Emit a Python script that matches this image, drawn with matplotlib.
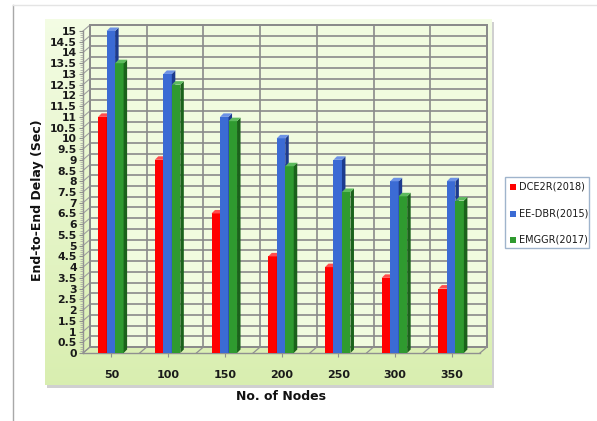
import matplotlib
matplotlib.use("Agg")
import matplotlib.pyplot as plt
import numpy as np
from matplotlib.patches import Rectangle, Polygon

# ── Data ──
nodes = ["50", "100", "150", "200", "250", "300", "350"]
dce2r = [11, 9, 6.5, 4.5, 4, 3.5, 3]
ee_dbr = [15, 13, 11, 10, 9, 8, 8]
emggr = [13.5, 12.5, 10.8, 8.7, 7.5, 7.3, 7.1]
series_names = ["DCE2R(2018)", "EE-DBR(2015)", "EMGGR(2017)"]

W, H = 597, 421
fig = plt.figure(figsize=(W / 100, H / 100), dpi=100)
fig.patch.set_facecolor("white")

def fx(x):
    return x / W

def fy(y):
    return 1 - y / H

# page frame lines
fig.add_artist(plt.Line2D([fx(13), fx(13)], [fy(5), fy(421)], color="#a8a8a8", lw=1))
fig.add_artist(plt.Line2D([fx(13), fx(597)], [fy(5), fy(5)], color="#e4e4e4", lw=1))

# chart area: soft shadow + green gradient
fig.add_artist(Rectangle((fx(47), fy(388)), fx(447), 366 / H,
                         facecolor="#d0d0d0", edgecolor="none", zorder=0))
bg = fig.add_axes([fx(45), fy(385), fx(447), 366 / H], zorder=0)
top = np.array([0.955, 0.99, 0.895])
bot = np.array([0.85, 0.935, 0.69])
t = np.linspace(0, 1, 256)[:, None]
grad = top[None, :] * (1 - t) + bot[None, :] * t
bg.imshow(grad[:, None, :], aspect="auto", extent=(0, 1, 0, 1))
bg.set_axis_off()

# main axes: front edge of the floor and the y axis
ax = fig.add_axes([fx(83), fy(353), 397 / W, 322 / H], zorder=1)
ax.set_facecolor("none")
ax.set_xlim(0, 7)
ax.set_ylim(0, 15)
for s in ax.spines.values():
    s.set_visible(False)

px_x = 7 / 397
px_y = 15 / 322
dxw, dyw = 7 * px_x, 6 * px_y          # wall depth offset
grid_c = "#8a8a8a"

# back wall
ax.add_patch(Rectangle((dxw, dyw), 7, 15, facecolor="#f1fbdf", edgecolor=grid_c,
                       lw=1.3, zorder=0.5, clip_on=False))
for y in np.arange(0, 15.01, 0.5):
    ax.plot([dxw, 7 + dxw], [y + dyw] * 2, color=grid_c, lw=1.2, zorder=0.6, clip_on=False)
    ax.plot([0, dxw], [y, y + dyw], color="#a0a0a0", lw=0.8, zorder=0.6, clip_on=False)
for i in range(8):
    ax.plot([i + dxw] * 2, [dyw, 15 + dyw], color=grid_c, lw=1.2, zorder=0.6, clip_on=False)
    ax.plot([i, i + dxw], [0, dyw], color="#909090", lw=0.9, zorder=0.6, clip_on=False)
ax.plot([0, 7], [0, 0], color="#909090", lw=1, zorder=0.6, clip_on=False)
ax.plot([0, 0], [0, 15], color="#909090", lw=1, zorder=0.6, clip_on=False)

# 3D-looking columns
colors = [("#ff0000", "#b80000", "#ff4d4d"),
          ("#3b6bd4", "#1d3b8e", "#6d92e6"),
          ("#2f9a2f", "#1b621b", "#5dbb5d")]
offsets = [-9 * px_x, -0.5 * px_x, 8 * px_x]
bw = 8.5 * px_x
ddx, ddy = 3.5 * px_x, 3.5 * px_y
xc = np.arange(len(nodes)) + 0.5
for k, vals in enumerate([dce2r, ee_dbr, emggr]):
    front, side, cap = colors[k]
    xs = xc + offsets[k]
    ax.bar(xs, vals, width=bw, color=front, zorder=2 + k, linewidth=0)
    for x, v in zip(xs, vals):
        r = x + bw / 2
        l = x - bw / 2
        ax.add_patch(Polygon([(r, 0), (r + ddx, ddy), (r + ddx, v + ddy), (r, v)],
                             closed=True, facecolor=side, edgecolor="none",
                             zorder=2 + k, clip_on=False))
        ax.add_patch(Polygon([(l, v), (r, v), (r + ddx, v + ddy), (l + ddx, v + ddy)],
                             closed=True, facecolor=cap, edgecolor="none",
                             zorder=2 + k, clip_on=False))

# ticks and labels
yt = np.arange(0, 15.01, 0.5)
ax.set_yticks(yt)
ax.set_yticklabels([f"{v:g}" for v in yt], fontsize=7.8, fontweight="bold", color="#1a1a1a")
ax.set_yticks(np.arange(0, 15.01, 0.1), minor=True)
ax.tick_params(axis="y", which="major", length=3, width=0.8, color="#909090", pad=1.5)
ax.tick_params(axis="y", which="minor", length=2, width=0.5, color="#a0a0a0")
ax.set_xticks(xc)
ax.set_xticklabels(nodes, fontsize=8, fontweight="bold", color="#1a1a1a")
ax.tick_params(axis="x", length=3, width=0.8, color="#909090", pad=9)

fig.text(fx(38), fy(200), "End-to-End Delay (Sec)", rotation=90, ha="center", va="center",
         fontsize=9, fontweight="bold", color="#111111")
fig.text(fx(281), fy(396), "No. of Nodes", ha="center", va="center",
         fontsize=9, fontweight="bold", color="#111111")

# legend box
fig.add_artist(Rectangle((fx(505), fy(248)), 84 / W, 71 / H, facecolor="white",
                         edgecolor="#9fb4cc", lw=1, zorder=3))
for j, (name, c) in enumerate(zip(series_names, colors)):
    yy = 187 + j * 26.5
    fig.add_artist(Rectangle((fx(510), fy(yy + 3)), 6 / W, 6 / H, facecolor=c[0],
                             edgecolor="none", zorder=4))
    fig.text(fx(519), fy(yy), name, ha="left", va="center", fontsize=7, color="#1a1a1a",
             zorder=4)

fig.savefig("out.png", dpi=100)
